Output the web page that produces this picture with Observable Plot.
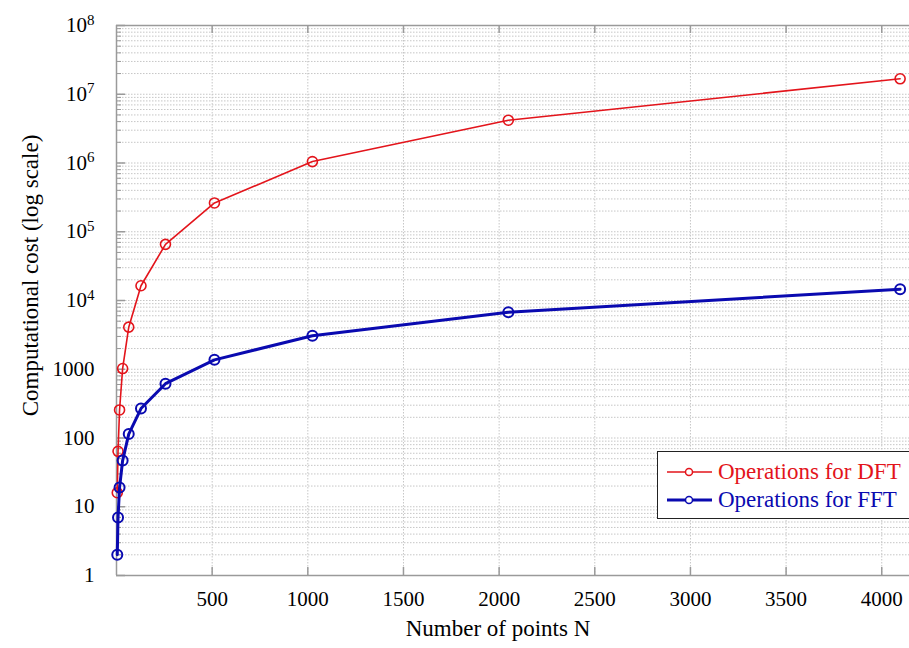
<!DOCTYPE html>
<html>
<head>
<meta charset="utf-8">
<script src="https://cdn.jsdelivr.net/npm/d3@7"></script>
<script src="https://cdn.jsdelivr.net/npm/@observablehq/plot@0.6"></script>
<style>
  body { margin: 0; background: #fff; }
  #chart { position: relative; width: 909px; height: 648px; overflow: hidden; font-family: "Liberation Serif", "Times New Roman", serif; }
  #legend { position: absolute; left: 657px; top: 451px; width: 270px; height: 68px; box-sizing: border-box;
            border: 1.5px solid #222; background: #fff; }
</style>
</head>
<body>
<div id="chart"></div>
<script>
// Transform size N and the number of operations each algorithm needs
const points = [4, 8, 16, 32, 64, 128, 256, 512, 1024, 2048, 4096];
const dftOps = [16, 64, 256, 1024, 4096, 16384, 65536, 262144, 1048576, 4194304, 16777216];
const fftOps = [2, 7, 19, 47, 114, 268, 616, 1370, 3070, 6750, 14600];

const seriesNames = ["Operations for DFT", "Operations for FFT"];
const seriesColors = ["#e3141b", "#0a0ab0"];

// Axis ticks
const xTicks = [500, 1000, 1500, 2000, 2500, 3000, 3500, 4000];
const yTicks = [1, 10, 100, 1000, 1e4, 1e5, 1e6, 1e7, 1e8];
const yTickLabels = ["1", "10", "100", "1000", "10^4", "10^5", "10^6", "10^7", "10^8"];
const yLabelOf = new Map(yTicks.map((v, i) => [v, yTickLabels[i]]));

// Minor log gridlines: 2..9 within every decade
const minorTicks = [];
for (let k = 0; k < 8; k++) for (let m = 2; m <= 9; m++) minorTicks.push(m * 10 ** k);

const rows = [
  ...points.map((N, i) => ({N, ops: dftOps[i], series: seriesNames[0]})),
  ...points.map((N, i) => ({N, ops: fftOps[i], series: seriesNames[1]}))
];
const dft = rows.filter(d => d.series === seriesNames[0]);
const fft = rows.filter(d => d.series === seriesNames[1]);

const W = 909, H = 648, mL = 116, mT = 25, mB = 73, mR = 0;
const innerW = W - mL - mR, innerH = H - mT - mB;
const frameColor = "#9a9a9a";
const gridStyle = {stroke: "#c6c6c6", strokeOpacity: 1, strokeWidth: 1, strokeDasharray: "1.5,1.5"};

const plot = Plot.plot({
  width: W, height: H,
  marginLeft: mL, marginTop: mT, marginBottom: mB, marginRight: mR,
  style: {fontFamily: "'Liberation Serif', 'Times New Roman', serif", fontSize: "21px", background: "#fff", color: "#000"},
  x: {domain: [0, 4145], label: null},
  y: {type: "log", domain: [1, 1e8], label: null},
  marks: [
    Plot.gridY(minorTicks, gridStyle),
    Plot.gridY(yTicks, gridStyle),
    Plot.gridX(xTicks, gridStyle),
    // inward ticks
    Plot.tickY(yTicks, {y: d => d, stroke: frameColor, strokeWidth: 1.5, insetRight: innerW - 9}),
    Plot.tickY(minorTicks, {y: d => d, stroke: frameColor, strokeWidth: 1, insetRight: innerW - 5}),
    Plot.tickX(xTicks, {x: d => d, stroke: frameColor, strokeWidth: 1.5, insetTop: innerH - 8}),
    Plot.tickX(xTicks, {x: d => d, stroke: frameColor, strokeWidth: 1.5, insetBottom: innerH - 8}),
    // axes box (left, bottom, top)
    Plot.ruleX([0], {stroke: frameColor, strokeWidth: 1.5}),
    Plot.ruleY([1], {stroke: frameColor, strokeWidth: 1.5}),
    Plot.ruleY([1e8], {stroke: frameColor, strokeWidth: 1.5}),
    Plot.axisX(xTicks, {tickSize: 0, tickPadding: 16, tickFormat: d => String(d), fontSize: 21, label: null}),
    Plot.axisY(yTicks, {tickSize: 0, tickPadding: 22, tickFormat: d => yLabelOf.get(d), fontSize: 21, label: null}),
    // series
    Plot.line(dft, {x: "N", y: "ops", stroke: seriesColors[0], strokeWidth: 1.6}),
    Plot.dot(dft, {x: "N", y: "ops", r: 5, stroke: seriesColors[0], strokeWidth: 1.6, fill: "none"}),
    Plot.line(fft, {x: "N", y: "ops", stroke: seriesColors[1], strokeWidth: 3}),
    Plot.dot(fft, {x: "N", y: "ops", r: 5, stroke: seriesColors[1], strokeWidth: 2, fill: "none"}),
    // axis titles
    Plot.text(["Number of points N"], {frameAnchor: "bottom", textAnchor: "middle", dx: -15, dy: 60, fontSize: 23, fill: "#000"}),
    Plot.text(["Computational cost (log scale)"], {frameAnchor: "left", textAnchor: "middle", rotate: -90, dx: -86, dy: -25, fontSize: 23, fill: "#000"})
  ]
});

// Render exponents of the log tick labels as superscripts
d3.select(plot).selectAll('g[aria-label="y-axis tick label"] text').each(function () {
  const m = this.textContent.match(/^10\^(\d+)$/);
  if (m) {
    const t = d3.select(this);
    t.text("10");
    t.append("tspan").attr("dy", "-0.5em").attr("font-size", "15px").text(m[1]);
  }
});

const chart = document.getElementById("chart");
chart.appendChild(plot);

// Legend box
const legend = document.createElement("div");
legend.id = "legend";
const lsvg = d3.create("svg").attr("width", 268).attr("height", 66)
  .style("font-family", "'Liberation Serif', 'Times New Roman', serif").style("font-size", "23px");
const rowsY = [20, 48];
const sw = [1.6, 3];
seriesNames.forEach((name, i) => {
  const g = lsvg.append("g").attr("transform", `translate(0,${rowsY[i]})`);
  g.append("line").attr("x1", 9).attr("x2", 54).attr("y1", 0).attr("y2", 0)
    .attr("stroke", seriesColors[i]).attr("stroke-width", sw[i]);
  g.append("circle").attr("cx", 31).attr("cy", 0).attr("r", 3.5)
    .attr("fill", "#fff").attr("stroke", seriesColors[i]).attr("stroke-width", 1.5);
  g.append("text").attr("x", 60).attr("y", 0).attr("dy", "0.32em")
    .attr("fill", seriesColors[i]).text(name);
});
legend.appendChild(lsvg.node());
chart.appendChild(legend);
</script>
</body>
</html>
